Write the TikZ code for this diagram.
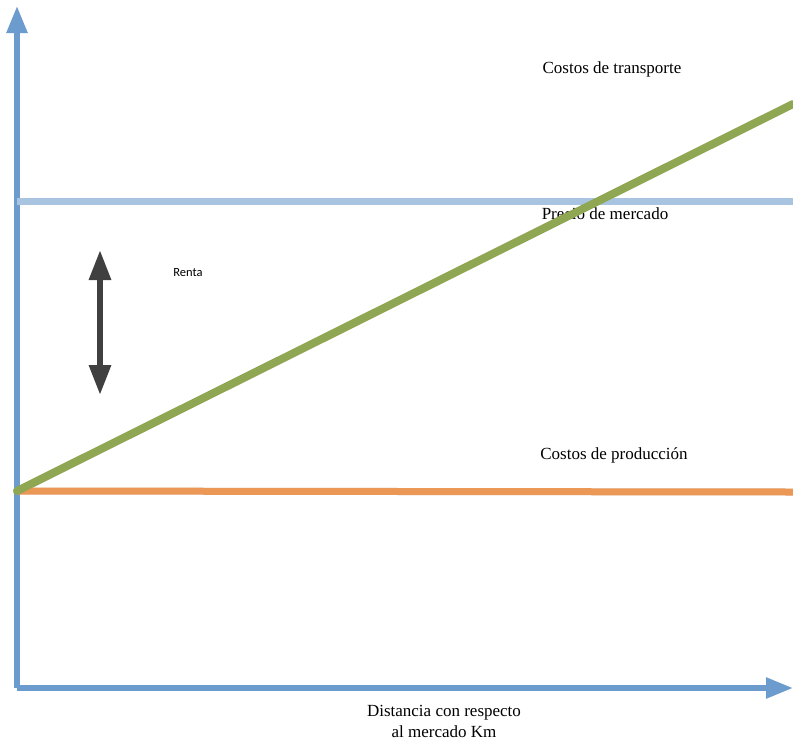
\documentclass[tikz,border=0pt]{standalone}
\usepackage{fontspec}
\setmainfont{Liberation Serif}
\newfontfamily\rentafont{Carlito}
\usepackage{tikz}
\usetikzlibrary{arrows.meta,positioning}
\definecolor{axisblue}{RGB}{108,155,206}
\definecolor{priceblue}{RGB}{168,196,224}
\definecolor{costorange}{RGB}{235,152,86}
\definecolor{transgreen}{RGB}{143,166,82}
\definecolor{rentgray}{HTML}{404040}
\newcommand{\lbl}{\fontsize{17}{21}\selectfont}

\begin{document}
\begin{tikzpicture}[x=1pt, y=-1pt,
    axis/.style={line width=5.5pt, axisblue, -{Triangle[length=27pt, width=20pt]}},
    level/.style={line width=7pt},
    shade/.style={line width=7pt, black!10, shift={(1.5pt,-2.5pt)}},
    label/.style={font=\lbl, inner sep=0pt}]
    \useasboundingbox (0,0) rectangle (793,740);

    % Points
    \coordinate (origin) at (17,688);
    \coordinate (ytip) at (17,6);
    \coordinate (xtip) at (793,688);
    \coordinate (start) at (17,491);
    \coordinate (pend) at (793,201);
    \coordinate (pstart) at (17,201);
    \coordinate (cend) at (793,492);
    \coordinate (tend) at (793,104);
    \coordinate (rtop) at (100,250);
    \coordinate (rbot) at (100,395);

    % Shadows
    \draw[shade] (pstart) -- (pend);
    \draw[shade] (start) -- (cend);
    \draw[shade] (start) -- (tend);

    % Axes
    \draw[axis] (origin) -- (ytip);
    \draw[axis] (origin) -- (xtip);

    % Price and cost levels
    \draw[level, priceblue] (pstart) -- (pend);
    \draw[level, costorange] (start) -- (cend);

    % Labels
    \node[label] (transporte) at (612,69) {Costos de transporte};
    \node[label] (precio) at (605,214) {Precio de mercado};
    \node[label] (produccion) at (614,455) {Costos de producción};
    \node[label, align=center] (distancia) at (444,721) {Distancia con respecto\\al mercado Km};
    \node[font=\rentafont\fontsize{12.5}{15}\selectfont, inner sep=0pt] (renta) at (188,273) {Renta};

    % Transport cost line
    \draw[line width=8pt, transgreen, line cap=round] (start) -- (tend);

    % Rent arrow
    \draw[line width=6pt, rentgray, {Triangle[length=30pt, width=21pt]}-{Triangle[length=30pt, width=21pt]}] (rtop) -- (rbot);
\end{tikzpicture}
\end{document}
